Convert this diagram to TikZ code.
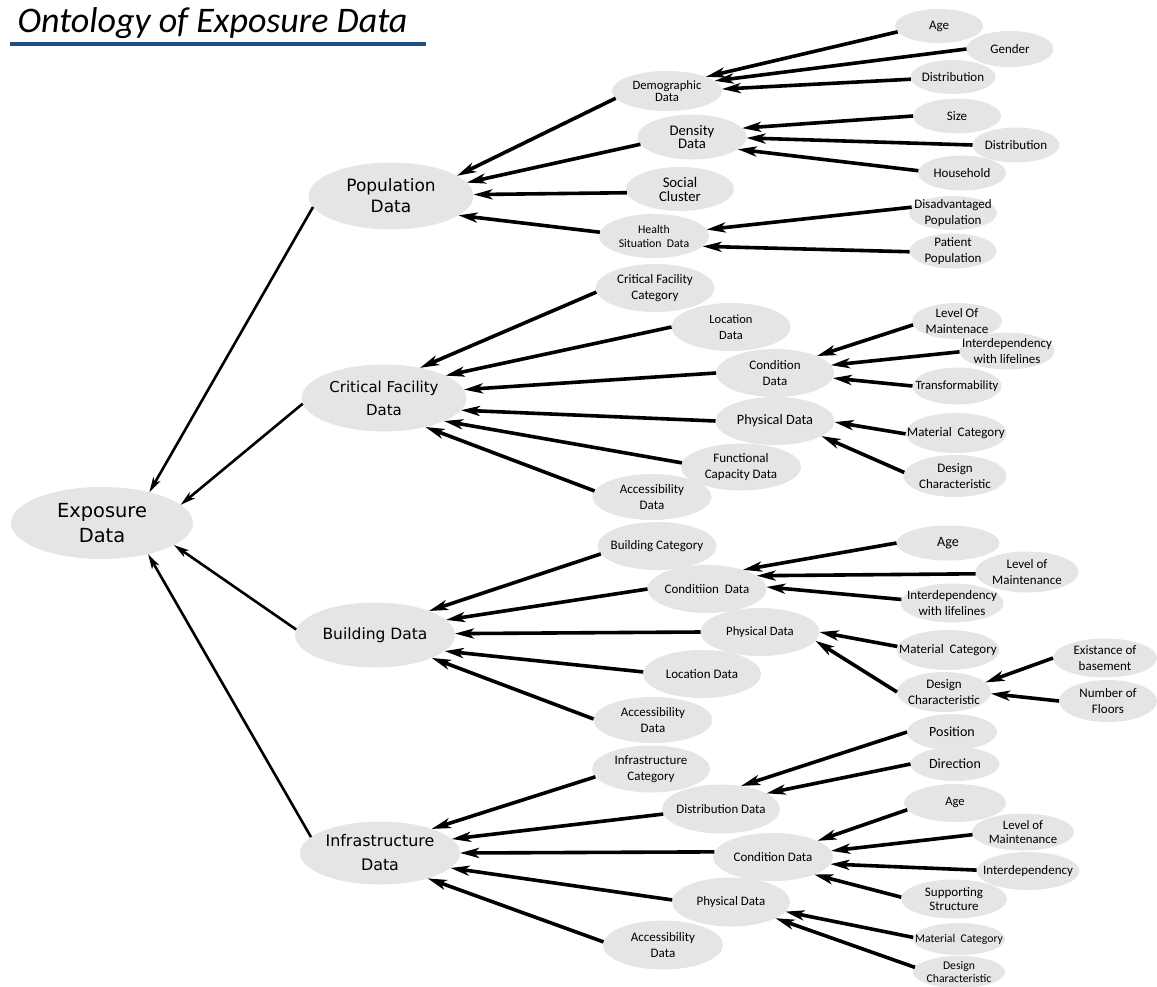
\documentclass[tikz,border=0pt]{standalone}
\usepackage{fontspec}
\setmainfont{Carlito}
\newfontfamily\verdana{DejaVu Sans}
\usetikzlibrary{
    arrows.meta,
    shapes.geometric
}
\definecolor{nodegray}{RGB}{229,229,229}
\definecolor{titleblue}{RGB}{31,78,137}
\newcommand\nodefont[2]{\fontsize{#1}{#2}\selectfont}
\tikzset{
    % Nodes
    onto/.style={ellipse,fill=nodegray,inner xsep=-40pt,inner ysep=-20pt,outer sep=0pt,align=center,font=\nodefont{13}{15.5}},
    topic/.style={onto,font=\verdana\nodefont{15.5}{23}},
    dims/.style 2 args={minimum width=#1pt,minimum height=#2pt},
    %
    % Arrows
    onto tip/.tip={Stealth[length=19pt,width=10pt,inset=5pt]},
    arr/.style={-{onto tip},line width=3.6pt},
    toparr/.style={-{Stealth[length=15pt,width=8pt,inset=4pt]},line width=2.6pt}
}

\begin{document}
\begin{tikzpicture}[x=1pt,y=-1pt]
    \useasboundingbox (0,0) rectangle (1157,986);

    % title
    \node[anchor=base west,font=\itshape\nodefont{36}{40}] (title) at (14,32) {Ontology of Exposure Data};
    \draw[titleblue,line width=4pt] (10,44) -- (426,44);

    % main branches
    \node[topic,dims={182}{72},font=\verdana\nodefont{19.4}{25}] (exposure) at (102,523) {Exposure\\Data};
    \node[topic,dims={165}{67},font=\verdana\nodefont{17}{21}] (population) at (391,196) {Population\\Data};
    \node[topic,dims={165}{67},font=\verdana\nodefont{15}{23}] (critical) at (384,398) {Critical Facility\\Data};
    \node[topic,dims={160}{65}] (building) at (375,635) {Building Data};
    \node[topic,dims={160}{63},font=\verdana\nodefont{15.9}{24}] (infra) at (380,853) {Infrastructure\\Data};

    % population
    \node[onto,dims={110}{40},font=\nodefont{12.7}{12.5}] (demographic) at (667,91) {Demographic\\Data};
    \node[onto,dims={109}{45},font=\nodefont{14.7}{13.6}] (density) at (692,137) {Density\\Data};
    \node[onto,dims={108}{44},font=\nodefont{14.7}{14}] (social) at (680,189) {Social\\Cluster};
    \node[onto,dims={110}{44},font=\nodefont{11.8}{14}] (health) at (654,236) {Health\\Situation\ \ Data};
    \node[onto,dims={88}{34}] (popage) at (939,26) {Age};
    \node[onto,dims={87}{36}] (gender) at (1010,49) {Gender};
    \node[onto,dims={85}{34}] (demodist) at (953,77) {Distribution};
    \node[onto,dims={88}{35}] (size) at (957,116) {Size};
    \node[onto,dims={87}{35}] (densdist) at (1016,145) {Distribution};
    \node[onto,dims={88}{35}] (household) at (962,173) {Household};
    \node[onto,dims={88}{34}] (disadv) at (953,213) {Disadvantaged\\Population};
    \node[onto,dims={87}{35}] (patient) at (953,251) {Patient\\Population};

    % critical facility
    \node[onto,dims={119}{48}] (cfcat) at (655,288) {Critical Facility\\Category};
    \node[onto,dims={119}{48},font=\nodefont{12.5}{15.5}] (cfloc) at (731,327) {Location\\Data};
    \node[onto,dims={118}{48}] (cfcond) at (775,373) {Condition\\Data};
    \node[onto,dims={119}{48},font=\nodefont{14.3}{16}] (cfphys) at (775,421) {Physical Data};
    \node[onto,dims={120}{47}] (cffunc) at (741,467) {Functional\\Capacity Data};
    \node[onto,dims={119}{46}] (cfacc) at (652,497) {Accessibility\\Data};
    \node[onto,dims={90}{36}] (cflevel) at (957,321) {Level Of\\Maintenace};
    \node[onto,dims={95}{37}] (cfinter) at (1007,351) {Interdependency\\with lifelines};
    \node[onto,dims={89}{37},font=\nodefont{12.6}{15}] (cftrans) at (957,386) {Transformability};
    \node[onto,dims={101}{40}] (cfmat) at (956,433) {Material\ \ Category};
    \node[onto,dims={103}{42}] (cfdesign) at (955,476) {Design\\Characteristic};

    % building
    \node[onto,dims={119}{48}] (bcat) at (657,546) {Building Category};
    \node[onto,dims={119}{48}] (bcond) at (707,589) {Conditiion\ \ Data};
    \node[onto,dims={119}{48},font=\nodefont{12.7}{15}] (bphys) at (760,632) {Physical Data};
    \node[onto,dims={118}{48}] (bloc) at (702,674) {Location Data};
    \node[onto,dims={119}{46}] (bacc) at (653,720) {Accessibility\\Data};
    \node[onto,dims={103}{35},font=\nodefont{14.2}{16}] (bage) at (948,543) {Age};
    \node[onto,dims={103}{41}] (blevel) at (1027,572) {Level of\\Maintenance};
    \node[onto,dims={103}{39}] (binter) at (952,603) {Interdependency\\with lifelines};
    \node[onto,dims={103}{40}] (bmat) at (948,650) {Material\ \ Category};
    \node[onto,dims={94}{40}] (bdesign) at (944,692) {Design\\Characteristic};
    \node[onto,dims={104}{39}] (bbase) at (1105,658) {Existance of\\basement};
    \node[onto,dims={98}{42}] (bfloors) at (1108,701) {Number of\\Floors};

    % infrastructure
    \node[onto,dims={118}{47}] (icat) at (651,769) {Infrastructure\\Category};
    \node[onto,dims={118}{49},font=\nodefont{12.9}{15}] (idist) at (721,809) {Distribution Data};
    \node[onto,dims={120}{48}] (icond) at (773,857) {Condition Data};
    \node[onto,dims={118}{49},font=\nodefont{12.9}{15}] (iphys) at (731,902) {Physical Data};
    \node[onto,dims={120}{49}] (iacc) at (663,945) {Accessibility\\Data};
    \node[onto,dims={90}{36},font=\nodefont{14}{16}] (ipos) at (952,732) {Position};
    \node[onto,dims={89}{34},font=\nodefont{14}{16}] (idir) at (955,764) {Direction};
    \node[onto,dims={102}{38},font=\nodefont{12.6}{15}] (iage) at (955,803) {Age};
    \node[onto,dims={102}{37},font=\nodefont{12.8}{14.5}] (ilevel) at (1023,832) {Level of\\Maintenance};
    \node[onto,dims={103}{38}] (iinter) at (1028,871) {Interdependency};
    \node[onto,dims={106}{39},font=\nodefont{13}{14}] (isupp) at (954,899) {Supporting\\Structure};
    \node[onto,dims={92}{32},font=\nodefont{11.7}{13}] (imat) at (959,939) {Material\ \ Category};
    \node[onto,dims={92}{32},font=\nodefont{11.7}{13}] (idesign) at (959,972) {Design\\Characteristic};

    % into exposure
    \draw[toparr] (population.188) -- (exposure.33);
    \draw[toparr] (critical.184) -- (exposure.13);
    \draw[toparr] (building.176) -- (exposure.-17);
    \draw[toparr] (infra.167) -- (exposure.-34);

    % into population
    \draw[arr] (demographic.188) -- (population.17);
    \draw[arr] (density.188) -- (population.10);
    \draw[arr] (social.184) -- (population.1);
    \draw[arr] (health.176) -- (population.-16);
    \draw[arr] (popage.188) -- (demographic.20);
    \draw[arr] (gender.180) -- (demographic.12);
    \draw[arr] (demodist.183) -- (demographic.2);
    \draw[arr] (size.180) -- (density.10);
    \draw[arr] (densdist.180) -- (density.-1);
    \draw[arr] (household.177) -- (density.-15);
    \draw[arr] (disadv.172) -- (health.7);
    \draw[arr] (patient.181) -- (health.-12);

    % into critical facility
    \draw[arr] (cfcat.184) -- (critical.40);
    \draw[arr] (cfloc.180) -- (critical.20);
    \draw[arr] (cfcond.180) -- (critical.6);
    \draw[arr] (cfphys.180) -- (critical.-9);
    \draw[arr] (cffunc.176) -- (critical.-21);
    \draw[arr] (cfacc.174) -- (critical.-35);
    \draw[arr] (cflevel.185) -- (cfcond.22);
    \draw[arr] (cfinter.181) -- (cfcond.8);
    \draw[arr] (cftrans.180) -- (cfcond.-5);
    \draw[arr] (cfmat.181) -- (cfphys.-1);
    \draw[arr] (cfdesign.176) -- (cfphys.-18);

    % into building
    \draw[arr] (bcat.188) -- (building.24);
    \draw[arr] (bcond.180) -- (building.12);
    \draw[arr] (bphys.180) -- (building.1);
    \draw[arr] (bloc.178) -- (building.-13);
    \draw[arr] (bacc.179) -- (building.-22);
    \draw[arr] (bage.180) -- (bcond.28);
    \draw[arr] (blevel.182) -- (bcond.15);
    \draw[arr] (binter.176) -- (bcond.2);
    \draw[arr] (bmat.176) -- (bphys.0);
    \draw[arr] (bdesign.180) -- (bphys.-9);
    \draw[arr] (bbase.180) -- (bdesign.13);
    \draw[arr] (bfloors.180) -- (bdesign.-2);

    % into infrastructure
    \draw[arr] (icat.188) -- (infra.25);
    \draw[arr] (idist.185) -- (infra.11);
    \draw[arr] (icond.175) -- (infra.0);
    \draw[arr] (iphys.178) -- (infra.-12);
    \draw[arr] (iacc.177) -- (infra.-28);
    \draw[arr] (ipos.180) -- (idist.49);
    \draw[arr] (idir.180) -- (idist.19);
    \draw[arr] (iage.188) -- (icond.20);
    \draw[arr] (ilevel.183) -- (icond.6);
    \draw[arr] (iinter.179) -- (icond.-7);
    \draw[arr] (isupp.178) -- (icond.-23);
    \draw[arr] (imat.178) -- (iphys.-10);
    \draw[arr] (idesign.174) -- (iphys.-20);
\end{tikzpicture}
\end{document}
